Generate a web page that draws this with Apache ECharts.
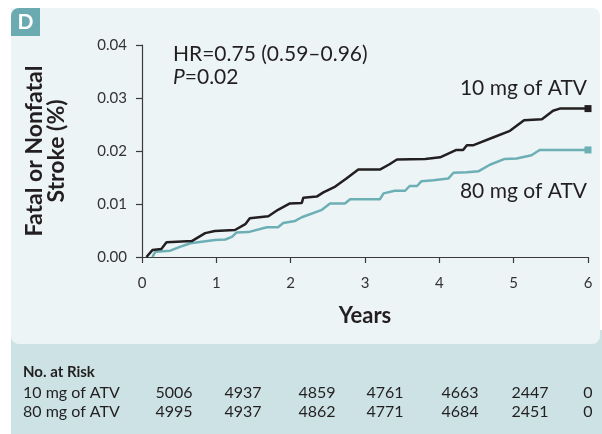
<!DOCTYPE html>
<html>
<head>
<meta charset="utf-8">
<script src="https://cdn.jsdelivr.net/npm/echarts@6/dist/echarts.min.js"></script>
<style>
  html, body { margin: 0; padding: 0; background: #ffffff; }
  #chart { width: 602px; height: 434px; }
</style>
</head>
<body>
<div id="chart"></div>
<script>
// Cumulative incidence of fatal or nonfatal stroke by atorvastatin dose
var years10 = [0.06, 0.14, 0.26, 0.33, 0.67, 0.85, 0.98, 1.25, 1.39, 1.45, 1.70, 1.83, 1.99, 2.15, 2.17, 2.35, 2.44, 2.60, 2.75, 2.91, 3.20, 3.33, 3.43, 3.81, 4.01, 4.23, 4.32, 4.37, 4.46, 4.73, 4.95, 5.14, 5.38, 5.53, 5.62, 6.0];
var stroke10 = [0, 0.0013, 0.0015, 0.0028, 0.0030, 0.0045, 0.0049, 0.0051, 0.0062, 0.0073, 0.0077, 0.0089, 0.0101, 0.0102, 0.0112, 0.0114, 0.0122, 0.0133, 0.0148, 0.0165, 0.0165, 0.0175, 0.0184, 0.0185, 0.0188, 0.0202, 0.0202, 0.0211, 0.0211, 0.0226, 0.0238, 0.0258, 0.0260, 0.0276, 0.0280, 0.0280];

var years80 = [0.14, 0.18, 0.38, 0.51, 0.65, 0.98, 1.12, 1.21, 1.27, 1.43, 1.68, 1.83, 1.90, 2.06, 2.15, 2.42, 2.53, 2.73, 2.80, 3.20, 3.25, 3.40, 3.54, 3.60, 3.70, 3.76, 3.92, 4.12, 4.19, 4.37, 4.53, 4.68, 4.88, 5.04, 5.24, 5.35, 6.0];
var stroke80 = [0, 0.0010, 0.0012, 0.0019, 0.0026, 0.0032, 0.0033, 0.0038, 0.0046, 0.0047, 0.0056, 0.0056, 0.0064, 0.0068, 0.0075, 0.0089, 0.0101, 0.0101, 0.0109, 0.0109, 0.0120, 0.0125, 0.0125, 0.0134, 0.0134, 0.0143, 0.0145, 0.0148, 0.0159, 0.0160, 0.0162, 0.0174, 0.0185, 0.0186, 0.0192, 0.0202, 0.0202];

var seriesNames = ['10 mg of ATV', '80 mg of ATV'];
var xTicks = [0, 1, 2, 3, 4, 5, 6];
var yTicks = [0, 0.01, 0.02, 0.03, 0.04];

// Number at risk table
var riskTitle = 'No. at Risk';
var risk10 = [5006, 4937, 4859, 4761, 4663, 2447, 0];
var risk80 = [4995, 4937, 4862, 4771, 4684, 2451, 0];

var FONT = 'Lato, "Noto Sans", sans-serif';
var INK = '#231f20';
var TEAL = '#6cafb5';

function toPoints(xs, ys, color) {
  return xs.map(function (x, i) {
    var p = { value: [x, ys[i]] };
    if (i === xs.length - 1) {
      p.symbol = 'rect';
      p.symbolSize = 7;
      p.itemStyle = { color: color };
    }
    return p;
  });
}

var riskCols = [174, 243, 317, 385, 460, 530, 588];
var tableTexts = [];
tableTexts.push({ type: 'text', left: 23, top: 365, z: 5,
  style: { text: riskTitle, font: 'bold 15px ' + FONT, fill: INK } });
[[seriesNames[0], risk10, 385], [seriesNames[1], risk80, 404]].forEach(function (row) {
  tableTexts.push({ type: 'text', x: 23, y: row[2], z: 5,
    style: { text: row[0], font: '16px ' + FONT, fill: INK, textVerticalAlign: 'top' } });
  row[1].forEach(function (v, i) {
    tableTexts.push({ type: 'text', x: riskCols[i], y: row[2], z: 5,
      style: { text: String(v), font: '16px ' + FONT, fill: INK, textAlign: 'center', textVerticalAlign: 'top' } });
  });
});

var chart = echarts.init(document.getElementById('chart'), null, { renderer: 'canvas' });
chart.setOption({
  backgroundColor: '#ffffff',
  animation: false,
  textStyle: { fontFamily: FONT },
  grid: { left: 142, right: 14, top: 45, bottom: 177, containLabel: false },
  xAxis: {
    type: 'value', min: 0, max: 6, interval: 1,
    name: 'Years', nameLocation: 'middle', nameGap: 48,
    nameTextStyle: { fontSize: 22, fontWeight: 'bold', color: INK, fontFamily: FONT },
    axisLine: { lineStyle: { color: '#3a3a3a', width: 1.2 } },
    axisTick: { show: true, length: 6, lineStyle: { color: '#3a3a3a', width: 1.2 } },
    axisLabel: { fontSize: 15, color: '#333333', margin: 19, fontFamily: FONT,
      formatter: function (v) { return xTicks.indexOf(v) >= 0 ? String(v) : ''; } },
    splitLine: { show: false }
  },
  yAxis: {
    type: 'value', min: 0, max: 0.04, interval: 0.01,
    name: 'Fatal or Nonfatal\nStroke (%)', nameLocation: 'middle', nameGap: 74, nameRotate: 90,
    nameTextStyle: { fontSize: 23, fontWeight: 'bold', color: INK, fontFamily: FONT, lineHeight: 22 },
    axisLine: { show: true, lineStyle: { color: '#3a3a3a', width: 1.2 } },
    axisTick: { show: true, length: 6, lineStyle: { color: '#3a3a3a', width: 1.2 } },
    axisLabel: { fontSize: 15, color: '#333333', margin: 15, fontFamily: FONT,
      formatter: function (v) { return yTicks.indexOf(+v.toFixed(2)) >= 0 ? v.toFixed(2) : ''; } },
    splitLine: { show: false }
  },
  graphic: {
    elements: [
      { type: 'rect', z: -20, shape: { x: 11, y: 330, width: 591, height: 104 }, style: { fill: '#cde2e5' } },
      { type: 'rect', z: -10, shape: { x: 11, y: 8, width: 589, height: 336, r: [0, 8, 8, 8] }, style: { fill: '#edf4f6' } },
      { type: 'rect', z: -5, shape: { x: 11, y: 8, width: 29, height: 28, r: [8, 0, 0, 0] }, style: { fill: '#6aaab0' } },
      { type: 'text', z: 5, x: 25.5, y: 22.5,
        style: { text: 'D', font: 'bold 21px ' + FONT, fill: '#ffffff', textAlign: 'center', textVerticalAlign: 'middle' } },
      { type: 'text', z: 5, x: 173, y: 44,
        style: { text: 'HR=0.75 (0.59\u20130.96)', font: '21px ' + FONT, fill: INK } },
      { type: 'text', z: 5, x: 173, y: 67,
        style: { rich: { i: { fontStyle: 'italic', fontSize: 21, fontFamily: FONT, fill: INK } },
          text: '{i|P}=0.02', font: '21px ' + FONT, fill: INK } },
      { type: 'text', z: 5, x: 587, y: 78,
        style: { text: seriesNames[0], font: '21px ' + FONT, fill: INK, textAlign: 'right' } },
      { type: 'text', z: 5, x: 587, y: 181,
        style: { text: seriesNames[1], font: '21px ' + FONT, fill: INK, textAlign: 'right' } }
    ].concat(tableTexts)
  },
  series: [
    {
      name: seriesNames[1], type: 'line', symbol: 'none', z: 3,
      lineStyle: { color: TEAL, width: 2.5 }, itemStyle: { color: TEAL },
      data: toPoints(years80, stroke80, TEAL)
    },
    {
      name: seriesNames[0], type: 'line', symbol: 'none', z: 4,
      lineStyle: { color: INK, width: 2.5 }, itemStyle: { color: INK },
      data: toPoints(years10, stroke10, INK)
    }
  ]
});
</script>
</body>
</html>
